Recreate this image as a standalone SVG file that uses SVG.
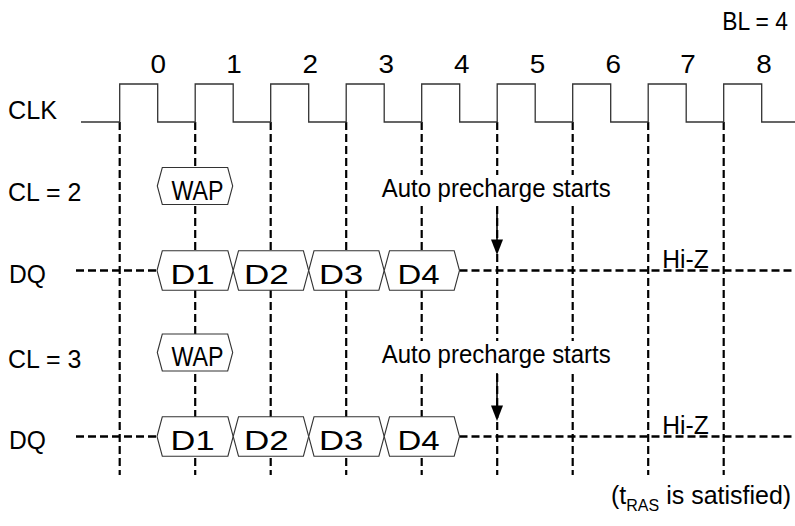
<svg xmlns="http://www.w3.org/2000/svg" width="795" height="526" viewBox="0 0 795 526">
<defs>
<style>
text{font-family:"Liberation Sans",Arial,sans-serif;fill:#000;}
.lbl{font-size:25px;}
.box{font-size:27px;}
.hex{fill:#fff;stroke:#333;stroke-width:1.1;}
.vd{stroke:#000;stroke-width:2.2;stroke-dasharray:8 4;fill:none;}
.hd{stroke:#000;stroke-width:2.4;stroke-dasharray:8 4;fill:none;}
.clk{stroke:#333;stroke-width:1.3;fill:none;}
.arr{stroke:#000;stroke-width:1.6;fill:none;}
.ah{fill:#000;}
.bg{fill:#fff;}
</style>
</defs>
<rect width="795" height="526" fill="#fff"/>

<g id="connectors">
  <path class="vd" d="M119.7,122V475M195.2,122V475M270.7,122V475M346.2,122V475M421.7,122V475M497.2,122V475M572.7,122V475M648.2,122V475M723.7,122V475"/>
  <path class="hd" d="M76,270.5H157M459.5,270.5H795"/>
  <path class="hd" d="M76,436.5H157M459.5,436.5H795"/>
  <path class="arr" d="M497,207V241"/>
  <polygon class="ah" points="491,239.5 503,239.5 497,255"/>
  <path class="arr" d="M497,373V407"/>
  <polygon class="ah" points="491,405.5 503,405.5 497,421"/>
</g>

<g id="clock">
  <path class="clk" d="M81,122H119.7V84H157.7V122H195.2V84H233.2V122H270.7V84H308.7V122H346.2V84H384.2V122H421.7V84H459.7V122H497.2V84H535.2V122H572.7V84H610.7V122H648.2V84H686.2V122H723.7V84H761.7V122H795"/>
  <g class="lbl" text-anchor="middle">
    <text x="158.3" y="72.5" textLength="15.5" lengthAdjust="spacingAndGlyphs">0</text>
    <text x="234" y="72.5" textLength="15.5" lengthAdjust="spacingAndGlyphs">1</text>
    <text x="310.3" y="72.5" textLength="15.5" lengthAdjust="spacingAndGlyphs">2</text>
    <text x="386.3" y="72.5" textLength="15.5" lengthAdjust="spacingAndGlyphs">3</text>
    <text x="461.7" y="72.5" textLength="15.5" lengthAdjust="spacingAndGlyphs">4</text>
    <text x="537.5" y="72.5" textLength="15.5" lengthAdjust="spacingAndGlyphs">5</text>
    <text x="613.3" y="72.5" textLength="15.5" lengthAdjust="spacingAndGlyphs">6</text>
    <text x="688" y="72.5" textLength="15.5" lengthAdjust="spacingAndGlyphs">7</text>
    <text x="764" y="72.5" textLength="15.5" lengthAdjust="spacingAndGlyphs">8</text>
  </g>
</g>

<g id="labels" class="lbl">
  <text x="722.2" y="30" textLength="65.8" lengthAdjust="spacingAndGlyphs">BL = 4</text>
  <text x="8" y="118.5" textLength="49" lengthAdjust="spacingAndGlyphs">CLK</text>
  <text x="8.1" y="200.5" textLength="73.3" lengthAdjust="spacingAndGlyphs">CL = 2</text>
  <text x="9.1" y="282.5" textLength="36.9" lengthAdjust="spacingAndGlyphs">DQ</text>
  <text x="8.1" y="368" textLength="73.3" lengthAdjust="spacingAndGlyphs">CL = 3</text>
  <text x="9.1" y="449" textLength="36.9" lengthAdjust="spacingAndGlyphs">DQ</text>
  <text x="662.3" y="267.5" textLength="46.5" lengthAdjust="spacingAndGlyphs">Hi-Z</text>
  <text x="662.3" y="433.5" textLength="46.5" lengthAdjust="spacingAndGlyphs">Hi-Z</text>
  <text transform="translate(611,503.5)">(t<tspan font-size="16" dy="7">RAS</tspan><tspan dy="-7"> is satisfied)</tspan></text>
</g>

<g id="note-cl2">
  <rect class="bg" x="380" y="175" width="232" height="29"/>
  <text class="lbl" x="381.7" y="197" textLength="229" lengthAdjust="spacingAndGlyphs">Auto precharge starts</text>
</g>
<g id="note-cl3">
  <rect class="bg" x="380" y="341" width="232" height="29"/>
  <text class="lbl" x="381.7" y="363" textLength="229" lengthAdjust="spacingAndGlyphs">Auto precharge starts</text>
</g>

<g id="wap-cl2">
  <polygon class="hex" points="157.3,186 162.3,167.5 227.7,167.5 232.7,186 227.7,204.5 162.3,204.5"/>
  <text class="box" x="171.5" y="199.5" textLength="52.1" lengthAdjust="spacingAndGlyphs">WAP</text>
</g>
<g id="wap-cl3">
  <polygon class="hex" points="157.3,352.5 162.3,334 227.7,334 232.7,352.5 227.7,371 162.3,371"/>
  <text class="box" x="171.5" y="366" textLength="52.1" lengthAdjust="spacingAndGlyphs">WAP</text>
</g>

<g id="d1-cl2">
  <polygon class="hex" points="157,270.5 162.3,250.8 227.9,250.8 233.2,270.5 227.9,290.2 162.3,290.2"/>
  <text class="box" x="170.6" y="283.8" textLength="43.9" lengthAdjust="spacingAndGlyphs">D1</text>
</g>
<g id="d2-cl2">
  <polygon class="hex" points="233.2,270.5 238.5,250.8 303.4,250.8 308.7,270.5 303.4,290.2 238.5,290.2"/>
  <text class="box" x="243.9" y="283.8" textLength="44.8" lengthAdjust="spacingAndGlyphs">D2</text>
</g>
<g id="d3-cl2">
  <polygon class="hex" points="308.7,270.5 314,250.8 378.9,250.8 384.2,270.5 378.9,290.2 314,290.2"/>
  <text class="box" x="319" y="283.8" textLength="44.3" lengthAdjust="spacingAndGlyphs">D3</text>
</g>
<g id="d4-cl2">
  <polygon class="hex" points="384.2,270.5 389.5,250.8 454.2,250.8 459.5,270.5 454.2,290.2 389.5,290.2"/>
  <text class="box" x="397.4" y="283.8" textLength="42.1" lengthAdjust="spacingAndGlyphs">D4</text>
</g>

<g id="d1-cl3">
  <polygon class="hex" points="157,436.5 162.3,416.8 227.9,416.8 233.2,436.5 227.9,456.2 162.3,456.2"/>
  <text class="box" x="170.6" y="449.8" textLength="43.9" lengthAdjust="spacingAndGlyphs">D1</text>
</g>
<g id="d2-cl3">
  <polygon class="hex" points="233.2,436.5 238.5,416.8 303.4,416.8 308.7,436.5 303.4,456.2 238.5,456.2"/>
  <text class="box" x="243.9" y="449.8" textLength="44.8" lengthAdjust="spacingAndGlyphs">D2</text>
</g>
<g id="d3-cl3">
  <polygon class="hex" points="308.7,436.5 314,416.8 378.9,416.8 384.2,436.5 378.9,456.2 314,456.2"/>
  <text class="box" x="319" y="449.8" textLength="44.3" lengthAdjust="spacingAndGlyphs">D3</text>
</g>
<g id="d4-cl3">
  <polygon class="hex" points="384.2,436.5 389.5,416.8 454.2,416.8 459.5,436.5 454.2,456.2 389.5,456.2"/>
  <text class="box" x="397.4" y="449.8" textLength="42.1" lengthAdjust="spacingAndGlyphs">D4</text>
</g>
</svg>
